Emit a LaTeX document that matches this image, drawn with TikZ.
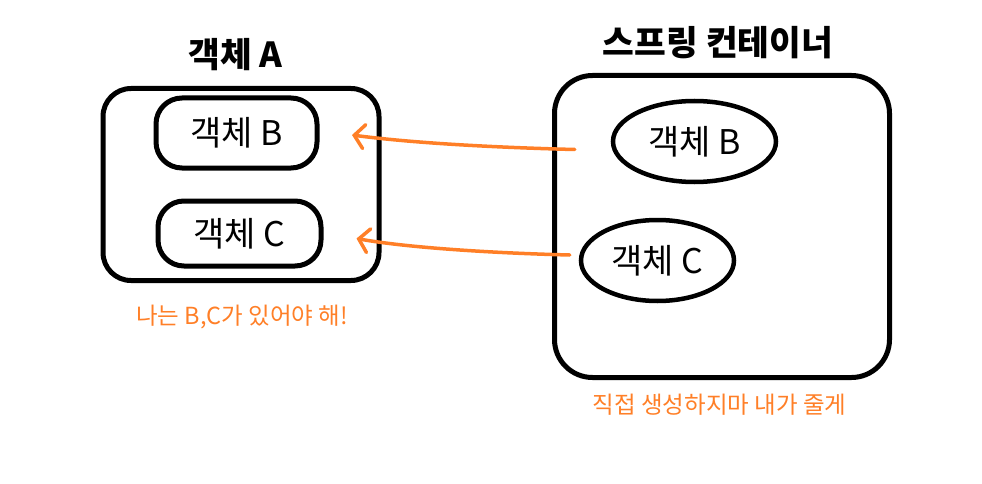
\documentclass[tikz,border=0pt]{standalone}
\usepackage{fontspec}
\setmainfont{Noto Sans CJK KR}
\usetikzlibrary{arrows.meta,shapes.geometric,calc}
\definecolor{paintorange}{RGB}{255,127,39}

\begin{document}
\begin{tikzpicture}[x=1pt,y=-1pt,
    box/.style={draw, line width=5pt, rounded corners=26pt},
    ell/.style={draw, ellipse, line width=4.5pt, inner sep=0pt},
    obj/.style={font=\fontsize{34}{40}\selectfont},
    heading/.style={font=\bfseries\fontsize{34.5}{40}\selectfont},
    remark/.style={text=paintorange, font=\fontsize{23.5}{28}\selectfont},
    wire/.style={draw=paintorange, line width=3.5pt, line cap=round, line join=round,
        -{Straight Barb[length=10pt,width=24pt,line cap=round]}}]
    \useasboundingbox (0,0) rectangle (982,484);

    % object A and what it needs
    \node[heading] (titleA) at (235.5,55) {객체 A};
    \node[box, rounded corners=28pt, minimum width=276, minimum height=192] (boxA) at (241,184.5) {};
    \node[box, obj, minimum width=161, minimum height=70] (boxB) at (236.5,133) {객체 B};
    \node[box, obj, minimum width=163, minimum height=65] (boxC) at (239.5,233.5) {객체 C};
    \node[remark] (needs) at (242,317.5) {나는 B,C가 있어야 해!};

    % the container
    \node[heading] (titleS) at (718,42.5) {스프링 컨테이너};
    \node[box, rounded corners=38pt, minimum width=335, minimum height=302] (spring) at (722,226.5) {};
    \node[ell, obj, minimum width=163, minimum height=81] (ellB) at (694.5,141.5) {객체 B};
    \node[ell, obj, minimum width=153, minimum height=81] (ellC) at (657.5,260.5) {객체 C};
    \node[remark] (gives) at (719.5,405) {직접 생성하지마 내가 줄게};

    % injection
    \coordinate (fromB) at ($(ellB.west)+(-36,8)$);
    \coordinate (toB) at ($(boxB.east)+(32.5,2)$);
    \coordinate (fromC) at ($(ellC.west)+(-9,-5.5)$);
    \coordinate (toC) at ($(boxC.east)+(33,5)$);
    \draw[wire] (fromB) .. controls +(-80,-2) and +(60,8) .. (toB);
    \draw[wire] (fromC) .. controls +(-80,-2) and +(50,9) .. (toC);
\end{tikzpicture}
\end{document}
